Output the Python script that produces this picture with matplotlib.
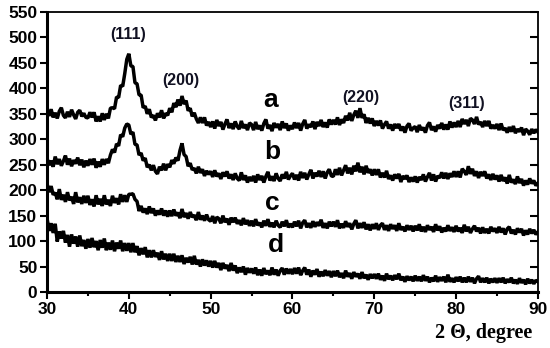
import numpy as np
import matplotlib
matplotlib.use("Agg")
import matplotlib.pyplot as plt
from matplotlib.ticker import MultipleLocator

# 2-theta grid (degrees), 0.25 degree step (30 ... 90)
two_theta = np.arange(30, 90.001, 0.25)

series_a = [
    356, 346, 359, 343, 352, 341, 355, 362, 347, 342, 354, 344, 358, 348, 340, 353, 357, 345, 351, 343,
    342, 353, 343, 353, 335, 345, 335, 351, 338, 350, 341, 361, 362, 360, 383, 382, 406, 404, 429, 457,
    468, 444, 443, 411, 409, 387, 387, 362, 365, 350, 359, 343, 347, 337, 351, 343, 357, 341, 351, 347,
    361, 353, 371, 363, 378, 366, 385, 369, 376, 356, 361, 345, 352, 340, 332, 343, 332, 343, 327, 334,
    324, 335, 321, 338, 326, 334, 319, 330, 339, 322, 331, 320, 335, 325, 320, 336, 322, 329, 318, 332,
    329, 318, 334, 320, 327, 317, 331, 339, 321, 328, 316, 332, 323, 330, 318, 335, 322, 331, 317, 327,
    320, 333, 322, 332, 317, 330, 338, 321, 329, 324, 335, 320, 334, 326, 338, 324, 333, 323, 339, 329,
    338, 329, 343, 328, 339, 332, 346, 337, 352, 336, 348, 356, 342, 361, 342, 349, 332, 342, 331, 341,
    326, 336, 327, 337, 321, 329, 335, 321, 329, 317, 330, 322, 330, 317, 325, 313, 326, 331, 317, 322,
    325, 314, 328, 318, 323, 313, 327, 333, 318, 325, 315, 328, 321, 332, 319, 329, 319, 335, 323, 333,
    324, 336, 324, 340, 330, 338, 326, 341, 338, 330, 344, 329, 334, 324, 336, 326, 336, 321, 328, 321,
    330, 318, 331, 318, 322, 313, 324, 315, 326, 312, 320, 315, 323, 308, 320, 316, 309, 320, 312, 319,
    314,
]
series_b = [
    263, 249, 258, 246, 266, 251, 261, 248, 257, 268, 250, 262, 247, 259, 252, 264, 249, 260, 245, 258,
    248, 261, 250, 262, 244, 256, 246, 261, 250, 261, 253, 269, 280, 274, 291, 287, 309, 305, 322, 330,
    328, 310, 314, 290, 289, 269, 273, 258, 263, 245, 250, 239, 249, 237, 232, 246, 239, 252, 239, 251,
    245, 259, 252, 264, 258, 278, 292, 270, 266, 247, 253, 240, 243, 233, 246, 234, 241, 228, 238, 231,
    237, 226, 239, 227, 233, 222, 235, 227, 237, 223, 231, 220, 233, 223, 219, 235, 220, 229, 215, 226,
    218, 228, 215, 231, 220, 228, 215, 227, 236, 219, 227, 218, 233, 223, 218, 231, 223, 236, 221, 228,
    233, 221, 230, 219, 236, 224, 234, 221, 231, 240, 223, 234, 227, 238, 226, 237, 223, 235, 241, 228,
    227, 241, 230, 244, 229, 239, 249, 233, 244, 231, 248, 237, 254, 235, 246, 231, 248, 234, 241, 229,
    241, 230, 241, 225, 234, 225, 238, 222, 229, 219, 231, 223, 232, 216, 228, 222, 229, 216, 225, 217,
    227, 215, 226, 220, 231, 217, 226, 234, 219, 231, 217, 228, 224, 235, 223, 234, 222, 233, 226, 237,
    226, 237, 225, 242, 237, 230, 247, 232, 242, 228, 237, 224, 236, 228, 237, 223, 231, 220, 232, 221,
    229, 217, 230, 218, 225, 213, 230, 215, 221, 212, 227, 214, 222, 209, 219, 211, 223, 213, 219, 209,
    214,
]
series_c = [
    213, 196, 208, 191, 195, 182, 202, 181, 191, 177, 196, 180, 187, 173, 196, 176, 186, 173, 189, 175,
    189, 171, 182, 168, 190, 172, 183, 169, 190, 172, 181, 169, 189, 175, 184, 172, 192, 177, 190, 177,
    192, 192, 193, 182, 178, 159, 169, 156, 164, 153, 168, 155, 164, 150, 160, 152, 164, 150, 160, 148,
    160, 149, 162, 150, 156, 145, 163, 147, 155, 144, 157, 147, 151, 141, 157, 142, 150, 140, 152, 142,
    139, 149, 135, 147, 144, 135, 150, 137, 144, 132, 146, 137, 146, 134, 141, 131, 145, 133, 141, 130,
    140, 129, 143, 131, 136, 127, 140, 130, 143, 128, 136, 127, 140, 131, 127, 138, 129, 141, 127, 134,
    127, 138, 129, 140, 125, 136, 141, 127, 135, 126, 139, 128, 137, 130, 142, 126, 135, 125, 138, 129,
    138, 128, 141, 125, 134, 126, 139, 128, 135, 123, 134, 141, 125, 135, 126, 137, 123, 133, 121, 133,
    124, 135, 122, 131, 135, 122, 131, 120, 133, 124, 131, 120, 135, 122, 128, 119, 131, 122, 130, 119,
    130, 121, 133, 119, 128, 118, 131, 122, 128, 118, 133, 121, 129, 117, 126, 119, 131, 120, 127, 118,
    130, 119, 126, 116, 132, 119, 128, 116, 124, 130, 119, 126, 115, 127, 116, 124, 115, 128, 119, 125,
    116, 128, 117, 125, 113, 124, 128, 115, 122, 113, 125, 117, 124, 111, 121, 113, 124, 115, 122, 113,
    118,
]
series_d = [
    145, 120, 135, 116, 134, 99, 119, 105, 120, 97, 112, 89, 113, 95, 109, 89, 111, 90, 102, 85,
    104, 87, 106, 88, 100, 82, 102, 87, 105, 82, 97, 83, 101, 80, 97, 85, 101, 80, 96, 81,
    96, 78, 96, 78, 90, 72, 86, 74, 88, 68, 82, 68, 82, 69, 77, 63, 80, 64, 75, 61,
    75, 61, 75, 59, 71, 59, 72, 55, 67, 58, 69, 54, 71, 54, 63, 50, 64, 52, 62, 50,
    61, 48, 61, 48, 57, 43, 57, 46, 53, 41, 57, 42, 52, 37, 48, 39, 50, 34, 47, 38,
    46, 36, 48, 33, 44, 32, 47, 35, 42, 33, 48, 34, 44, 32, 42, 47, 34, 46, 36, 45,
    35, 47, 36, 48, 33, 42, 48, 34, 44, 30, 42, 34, 45, 30, 40, 31, 43, 32, 41, 29,
    41, 31, 42, 29, 37, 27, 42, 30, 37, 26, 39, 30, 36, 26, 39, 27, 34, 24, 35, 27,
    35, 26, 36, 24, 32, 22, 36, 25, 32, 23, 33, 25, 36, 23, 30, 20, 31, 23, 30, 21,
    32, 22, 30, 21, 33, 22, 30, 19, 28, 21, 32, 20, 29, 22, 30, 19, 34, 20, 27, 19,
    29, 21, 30, 19, 28, 19, 30, 20, 28, 17, 26, 31, 19, 27, 19, 28, 17, 26, 19, 27,
    18, 27, 19, 28, 17, 25, 19, 28, 17, 24, 16, 27, 18, 24, 15, 26, 17, 24, 16, 23,
    20,
]

curve_names = ["a", "b", "c", "d"]
curve_label_pos = [(57.3, 377), (57.5, 275), (57.5, 175), (58.0, 92)]

peak_labels = ["(111)", "(200)", "(220)", "(311)"]
peak_label_pos = [(39.9, 505), (46.3, 416), (68.3, 383), (81.3, 371)]

x_ticks = [30, 40, 50, 60, 70, 80, 90]
y_ticks = list(range(0, 551, 50))

fig = plt.figure(figsize=(5.5, 3.48), dpi=100)
ax = fig.add_axes([0.0855, 0.161, 0.8925, 0.8045])

for s in (series_a, series_b, series_c, series_d):
    ax.plot(two_theta, s, color="black", lw=2.5, solid_joinstyle="bevel")

ax.set_xlim(30, 90)
ax.set_ylim(0, 550)
ax.set_xticks(x_ticks)
ax.set_yticks(y_ticks)
ax.xaxis.set_minor_locator(MultipleLocator(5))

sans = ["Liberation Sans", "DejaVu Sans"]
for lab in ax.get_xticklabels() + ax.get_yticklabels():
    lab.set_fontfamily(sans)
    lab.set_fontweight("bold")
    lab.set_fontsize(12.5)

ax.tick_params(axis="y", which="major", direction="out", length=5, width=1.5,
               right=True, pad=2)
ax.tick_params(axis="x", which="major", direction="out", length=5, width=1.5, pad=2)
ax.tick_params(axis="x", which="minor", direction="out", length=3, width=1.5)

# right-side ticks point inward
for t in ax.yaxis.get_major_ticks():
    t.tick2line.set_marker(matplotlib.lines.TICKLEFT)
    t.tick2line.set_markersize(6)

ax.spines["left"].set_linewidth(2.2)
ax.spines["bottom"].set_linewidth(2.2)
ax.spines["top"].set_linewidth(1.3)
ax.spines["right"].set_linewidth(1.3)

for name, (x, y) in zip(curve_names, curve_label_pos):
    ax.text(x, y, name, fontsize=19, fontweight="bold", family=sans,
            ha="center", va="center")

for name, (x, y) in zip(peak_labels, peak_label_pos):
    ax.text(x, y, name, fontsize=11.5, fontweight="bold", family=sans,
            ha="center", va="center", color="#111122")

fig.text(0.968, 0.042, "2 \u0398, degree", fontsize=14.5, fontweight="bold",
         family=["Liberation Serif", "DejaVu Serif"], ha="right", va="center")

fig.savefig("out.png", dpi=100)
